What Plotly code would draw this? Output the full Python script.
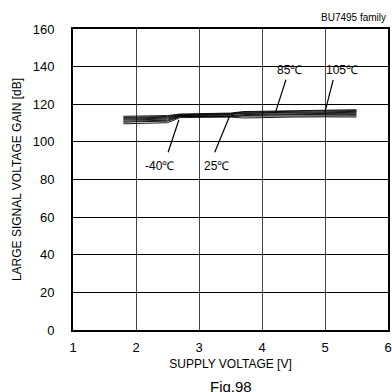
import plotly.graph_objects as go

voltage = [1.8, 2.0, 2.5, 2.7, 3.0, 3.5, 3.7, 4.0, 4.5, 5.0, 5.5]

gain_m40_a = [109.6, 109.8, 110.2, 112.9, 113.1, 113.2, 112.7, 113.0, 113.2, 113.3, 113.2]
gain_m40_b = [110.4, 110.7, 111.0, 113.4, 113.6, 113.7, 113.4, 113.6, 113.8, 113.9, 113.9]
gain_25_a = [111.0, 111.2, 111.5, 113.6, 113.6, 113.4, 114.0, 114.3, 114.5, 114.6, 114.6]
gain_25_b = [111.6, 111.8, 112.1, 113.8, 113.9, 113.9, 114.5, 114.7, 114.9, 115.1, 115.2]
gain_85_a = [112.1, 112.3, 112.6, 114.0, 114.2, 114.5, 115.1, 115.3, 115.4, 115.5, 115.7]
gain_85_b = [112.6, 112.8, 113.1, 114.3, 114.5, 114.8, 115.4, 115.6, 115.8, 116.0, 116.2]
gain_105_a = [113.0, 113.2, 113.5, 114.5, 114.7, 115.0, 115.8, 116.0, 116.2, 116.5, 116.6]
gain_105_b = [113.6, 113.8, 114.0, 114.8, 115.0, 115.3, 116.1, 116.3, 116.6, 117.0, 117.1]

series = [gain_m40_a, gain_m40_b, gain_25_a, gain_25_b,
          gain_85_a, gain_85_b, gain_105_a, gain_105_b]

x_ticks = [1, 2, 3, 4, 5, 6]
y_ticks = [0, 20, 40, 60, 80, 100, 120, 140, 160]

# labels: text, text position, pointer start, pointer end
labels = ["-40\u2103", "25\u2103", "85\u2103", "105\u2103"]
label_x = [2.37, 3.27, 4.43, 5.27]
label_y = [87.0, 87.0, 138.3, 138.3]
ptr_x0 = [2.51, 3.25, 4.38, 5.13]
ptr_y0 = [94.5, 94.5, 133.0, 133.0]
ptr_x1 = [2.68, 3.48, 4.21, 5.00]
ptr_y1 = [111.6, 113.2, 115.3, 115.9]

fig = go.Figure()
for s in series:
    fig.add_trace(go.Scatter(x=voltage, y=s, mode="lines",
                             line=dict(color="black", width=0.9),
                             showlegend=False, hoverinfo="skip"))

for i in range(len(labels)):
    fig.add_trace(go.Scatter(x=[ptr_x0[i], ptr_x1[i]], y=[ptr_y0[i], ptr_y1[i]],
                             mode="lines", line=dict(color="black", width=1.2),
                             showlegend=False, hoverinfo="skip"))
    fig.add_annotation(x=label_x[i], y=label_y[i], text=labels[i], showarrow=False,
                       font=dict(family="Liberation Sans, Arial", size=12, color="black"),
                       bgcolor="rgba(255,255,255,0)")

font = dict(family="Liberation Sans, Arial", size=13, color="black")

fig.update_layout(
    width=392, height=392,
    margin=dict(l=73, r=4, t=29, b=62),
    paper_bgcolor="white", plot_bgcolor="white",
    font=font,
    xaxis=dict(range=[1, 6], tickvals=x_ticks, ticktext=[str(v) for v in x_ticks],
               showgrid=True, gridcolor="#444", gridwidth=1,
               showline=True, linecolor="black", linewidth=2, mirror=True,
               ticks="", zeroline=False, ticklabelstandoff=4, automargin=False,
               title=dict(text="SUPPLY VOLTAGE [V]", standoff=6,
                          font=dict(family="Liberation Sans, Arial", size=12))),
    yaxis=dict(range=[0, 160], tickvals=y_ticks, ticktext=[str(v) for v in y_ticks],
               showgrid=True, gridcolor="black", gridwidth=1,
               showline=True, linecolor="black", linewidth=2, mirror=True,
               ticks="", zeroline=False, ticklabelstandoff=14, automargin=False,
               title=dict(text="LARGE SIGNAL VOLTAGE GAIN [dB]", standoff=8,
                          font=dict(family="Liberation Sans, Arial", size=12))),
)

fig.add_annotation(x=1.0, y=1.0, xref="paper", yref="paper", xanchor="right", yanchor="bottom",
                   yshift=4, text="BU7495 family", showarrow=False,
                   font=dict(family="Liberation Sans, Arial", size=10, color="black"))
fig.add_annotation(x=0.5, y=0, xref="paper", yref="paper", xanchor="center", yanchor="top",
                   yshift=-46, text="Fig.98", showarrow=False,
                   font=dict(family="Liberation Sans, Arial", size=15, color="black"))

fig.write_html("out.html", config={"displayModeBar": False},
               post_script="document.body.style.margin='0';")
